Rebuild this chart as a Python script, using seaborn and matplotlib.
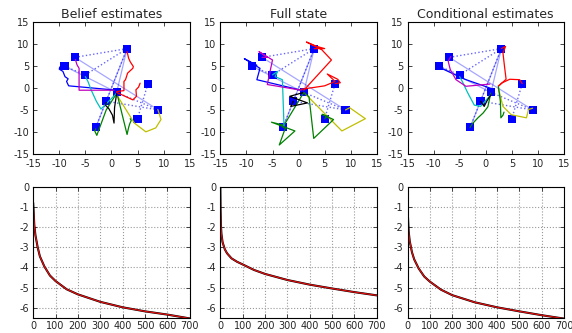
import numpy as np
import seaborn as sns
import matplotlib
matplotlib.use("Agg")
import matplotlib.pyplot as plt

# landmark positions (blue squares)
land_x = [-9, -3, 3, -5, -7, 9, -1, 1, 5, 7]
land_y = [5, -9, 9, 3, 7, -5, -3, -1, -7, 1]

# graph edges between landmarks (index pairs)
solid_edges = [(4, 5), (0, 7), (2, 7), (2, 1)]
dotted_edges = [(4, 2), (3, 2), (0, 3), (5, 6), (5, 7), (1, 6), (2, 6), (9, 8)]

# classic colour cycle, one track per landmark
track_colors = ['#0000ff', '#008000', '#ff0000', '#00bfbf', '#bf00bf',
                '#bfbf00', '#000000', '#0000ff', '#008000', '#ff0000']

belief_tracks = [
    [(1, -0.5), (-8.2, 0.5), (-8.6, 1.5), (-8.3, 2.1), (-8.9, 2.6), (-9.3, 3.8), (-10, 4.3), (-9.9, 4.8), (-9, 5)],
    [(1, -1.2), (-1, -5), (-2.8, -10.8), (-3.2, -9.8), (-3, -9.3)],
    [(1, -0.8), (2.4, -0.6), (2.4, 1.5), (2.7, 1.9), (3.1, 3.4), (4.1, 4.5), (4.2, 4.9), (3.6, 6), (3.3, 6.8), (3, 8.3)],
    [(1, -1.2), (-2, -4.8), (-2.9, -3), (-3.9, -0.4), (-4.5, 1.5), (-5, 2.6)],
    [(0.5, -0.5), (-6.2, -0.5), (-6.2, 4.5), (-6.6, 5.3), (-6.9, 6.5)],
    [(1.2, -1.9), (4.4, -8), (6.6, -10), (8.5, -9.1), (9.5, -7.2), (9.2, -6), (8.9, -4.9)],
    [(1, -1.2), (0.6, -4.5), (0.5, -8), (0.2, -6.2), (-0.5, -4.7), (-1.1, -4), (-1, -3.3)],
    [(1.3, -1.4), (1, -1)],
    [(1.2, -1.9), (3, -10.6), (3.3, -9), (3.5, -8.2), (3.8, -7.4), (3.6, -7)],
    [(1, -1), (4.1, -2.7), (4.8, -1.9), (4.7, -0.4), (5.2, 0.2), (5.5, 1.1)],
]

full_tracks = [
    [(0.5, -0.5), (-8, 1.9), (-7.4, 4.5), (-10.4, 6.7), (-8, 5.2), (-9, 5)],
    [(1, -1), (-2.8, -8.5), (-5.2, -7.8), (-0.7, -9.8), (-3.7, -13), (-2.5, -9), (-3, -9)],
    [(1, -0.5), (6.3, 6.4), (4.4, 8.8), (1.5, 10.5), (3.5, 9.5), (5, 9), (3, 9)],
    [(-2.8, -8.6), (-3.1, 1.9), (-4.5, 2.6), (-4, 3.8), (-5, 3)],
    [(0.5, -0.5), (-6, 0.8), (-5, 6.4), (-7.6, 8.3), (-6, 7), (-7, 7)],
    [(1, -1), (8.3, -9.8), (12.8, -7), (9.8, -4.5), (9, -5)],
    [(1, -1), (-1.7, -1.9), (1.7, -3.4), (-1.5, -4.2), (-1, -3)],
    [(1.3, -1.3), (1, -1)],
    [(1, -1), (2, -2), (2.9, -11.5), (6.7, -7.2), (4.5, -6), (5.5, -6.5), (5, -7)],
    [(0.5, -0.3), (5, 0.5), (7, 1.5), (5.5, 3.2), (7.5, 2), (8, 1.2), (7, 1)],
]

cond_tracks = [
    [(1.5, -0.3), (-4, 2), (-8.5, 4.5), (-9, 5)],
    [(1, -1), (0.4, -4.3), (-0.5, -5.7), (-1.5, -6.8), (-2.6, -8.2), (-3, -9)],
    [(2.5, 0.5), (3.9, 2), (3.6, 4.9), (3.3, 8), (3.8, 9.5), (3, 9)],
    [(1, -1.5), (-1, -4.2), (-2.2, -3.9), (-3.5, -1), (-4.5, 1.5), (-5, 2.6)],
    [(0.8, 0.9), (-3.8, 0.4), (-5.7, 1.9), (-6.8, 4.2), (-7.2, 6.1), (-6.7, 7.2)],
    [(2.4, 0), (3.3, -4.2), (4.9, -6.1), (7.8, -6.8), (8.2, -4.9), (9, -4.6)],
    [(1, -1.5), (0.2, -3), (-0.3, -4.2), (-1, -3)],
    [(1.3, -1.3), (1, -1)],
    [(2.4, 0.5), (2.8, -3), (2.9, -6.8), (3.3, -6.2), (3.5, -5.5)],
    [(2.5, 0.5), (3, 1.1), (4.6, 2), (6.5, 1.9), (7, 1)],
]

# log error curves
belief_t = [0, 5, 10, 20, 30, 50, 75, 100, 150, 200, 300, 400, 500, 600, 700]
belief_err = [-0.8, -1.9, -2.4, -3.0, -3.45, -3.95, -4.4, -4.67, -5.08, -5.33, -5.7, -5.97, -6.17, -6.33, -6.52]
full_t = [0, 1, 3, 5, 10, 20, 30, 50, 75, 100, 150, 200, 300, 400, 500, 600, 700]
full_err = [0, -1.2, -2.0, -2.35, -2.75, -3.1, -3.3, -3.55, -3.72, -3.85, -4.12, -4.32, -4.62, -4.85, -5.04, -5.22, -5.38]
cond_t = [0, 5, 10, 20, 30, 50, 75, 100, 150, 200, 300, 400, 500, 600, 700]
cond_err = [-1.0, -2.2, -2.7, -3.25, -3.6, -4.05, -4.45, -4.7, -5.1, -5.37, -5.72, -5.97, -6.17, -6.36, -6.53]

titles = ['Belief estimates', 'Full state', 'Conditional estimates']

sns.set_style("white", {
    'axes.edgecolor': 'black',
    'xtick.direction': 'in', 'ytick.direction': 'in',
    'xtick.top': True, 'ytick.right': True,
    'xtick.bottom': True, 'ytick.left': True,
})
plt.rcParams['font.family'] = ['DejaVu Sans']
plt.rcParams['axes.unicode_minus'] = False
plt.rcParams['xtick.labelsize'] = 7
plt.rcParams['ytick.labelsize'] = 7
plt.rcParams['axes.linewidth'] = 0.8

fig, axes = plt.subplots(2, 3, figsize=(5.72, 3.33), dpi=100)
plt.subplots_adjust(left=0.058, right=0.986, top=0.933, bottom=0.045,
                    wspace=0.196, hspace=0.25)

for ax, title, tracks in zip(axes[0], titles, [belief_tracks, full_tracks, cond_tracks]):
    for i, j in solid_edges:
        ax.plot([land_x[i], land_x[j]], [land_y[i], land_y[j]], color='#0000ff', lw=0.9, alpha=0.35)
    for i, j in dotted_edges:
        ax.plot([land_x[i], land_x[j]], [land_y[i], land_y[j]], color='#0000ff', lw=1.0, ls=':', alpha=0.6)
    sns.scatterplot(x=land_x, y=land_y, marker='s', s=34, color='#0000ff',
                    edgecolor='none', ax=ax, zorder=3)
    for pts, col in zip(tracks, track_colors):
        xs = [p[0] for p in pts]
        ys = [p[1] for p in pts]
        sns.lineplot(x=xs, y=ys, sort=False, estimator=None, color=col, lw=0.9, ax=ax, zorder=4)
    ax.set_xlim(-15, 15)
    ax.set_ylim(-15, 15)
    ax.set_xticks(range(-15, 16, 5))
    ax.set_yticks(range(-15, 16, 5))
    ax.set_title(title, fontsize=9, pad=3)
    ax.tick_params(axis='x', pad=4)

for ax, t, e in zip(axes[1], [belief_t, full_t, cond_t], [belief_err, full_err, cond_err]):
    sns.lineplot(x=t, y=e, color='black', lw=1.5, ax=ax)
    sns.lineplot(x=t, y=e, color='#e01010', lw=0.9, ax=ax)
    ax.set_xlim(0, 700)
    ax.set_ylim(-6.5, 0)
    ax.set_xticks(range(0, 701, 100))
    ax.set_yticks(range(-6, 1, 1))
    ax.grid(True, color='#999999', ls=':', lw=0.8)
    ax.tick_params(axis='x', pad=2)

for ax in axes.flat:
    ax.tick_params(length=3, width=0.6)
    ax.tick_params(axis='y', pad=3)

fig.savefig('out.png', dpi=100)
